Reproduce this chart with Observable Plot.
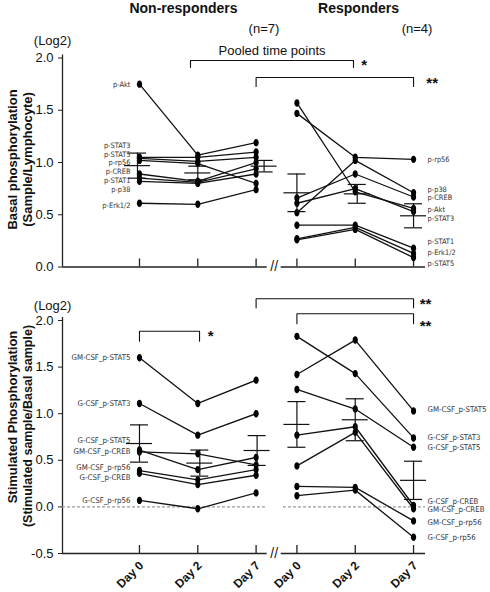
<!DOCTYPE html>
<html>
<head>
<meta charset="utf-8">
<script src="https://cdn.jsdelivr.net/npm/d3@7"></script>
<script src="https://cdn.jsdelivr.net/npm/@observablehq/plot@0.6"></script>
<style>
html,body{margin:0;padding:0;background:#fff;}
#chart{width:490px;}
#chart svg{display:block;}
</style>
</head>
<body>
<div id="chart"></div>
<script>
// ---------------- DATA ----------------
const groups = ["Non-responders", "Responders"];
const groupN = ["(n=7)", "(n=4)"];
const days = ["Day 0", "Day 2", "Day 7"];
const yTicks = [-0.5, 0, 0.5, 1, 1.5, 2];

// Basal phosphorylation (Log2), values per series at Day 0 / Day 2 / Day 7
const basalSeries = ["p-Akt", "p-STAT3", "p-STAT5", "p-rp56", "p-CREB", "p-STAT1", "p-p38", "p-Erk1/2"];
const basalNonResp = [
  [1.75, 1.07, 1.19],
  [1.05, 1.05, 1.10],
  [1.04, 1.01, 1.05],
  [1.02, 0.99, 0.80],
  [0.89, 0.82, 1.00],
  [0.85, 0.81, 0.94],
  [0.82, 0.80, 0.89],
  [0.61, 0.60, 0.74]
];
const basalResp = [
  [1.57, 0.72, 0.56],
  [0.61, 0.75, 0.53],
  [0.26, 0.36, 0.09],
  [1.47, 1.05, 1.03],
  [0.66, 0.89, 0.67],
  [0.40, 0.40, 0.18],
  [0.52, 1.02, 0.71],
  [0.27, 0.38, 0.13]
];
const basalNonRespMean = [0.97, 0.90, 0.965];
const basalNonRespSem  = [0.12, 0.065, 0.055];
const basalRespMean    = [0.71, 0.70, 0.49];
const basalRespSem     = [0.18, 0.09, 0.115];

// Stimulated phosphorylation (Log2)
const stimSeries = ["GM-CSF_p-STAT5", "G-CSF_p-STAT3", "G-CSF_p-STAT5", "GM-CSF_p-CREB", "GM-CSF_p-rp56", "G-CSF_p-CREB", "G-CSF_p-rp56"];
const stimNonResp = [
  [1.60, 1.11, 1.36],
  [1.11, 0.77, 1.00],
  [0.61, 0.40, 0.53],
  [0.59, 0.57, 0.45],
  [0.39, 0.29, 0.40],
  [0.36, 0.24, 0.34],
  [0.07, -0.02, 0.15]
];
const stimResp = [
  [1.42, 1.79, 1.03],
  [1.83, 1.43, 0.74],
  [1.26, 1.05, 0.64],
  [0.44, 0.80, -0.02],
  [0.22, 0.21, -0.15],
  [0.77, 0.86, 0.015],
  [0.12, 0.18, -0.325]
];
const stimNonRespMean = [0.68, 0.47, 0.605];
const stimNonRespSem  = [0.20, 0.14, 0.16];
const stimRespMean    = [0.885, 0.935, 0.285];
const stimRespSem     = [0.245, 0.225, 0.205];

// ---------------- LAYOUT ----------------
// label anchor heights (value units) for the series names
const basalNonRespLabelAt = [1.746, 1.162, 1.08, 1.0, 0.908, 0.822, 0.738, 0.589];
const basalRespLabelAt    = [0.548, 0.466, 0.031, 1.03, 0.662, 0.247, 0.745, 0.136];
const stimNonRespLabelAt  = [1.60, 1.113, 0.712, 0.598, 0.426, 0.319, 0.069];
const stimRespLabelAt     = [1.042, 0.748, 0.634, -0.031, -0.164, 0.058, -0.325];

const W = 490, ML = 62, MR = 65;
const X_DOMAIN = [-1.32, 4.905];
const PX = (W - ML - MR) / (X_DOMAIN[1] - X_DOMAIN[0]);
const RESP_SHIFT = 2.7;
const xAt = (g, i) => (g === 0 ? 0 : RESP_SHIFT) + i;
const BREAK_X = 2.31;
const FONT = "'Liberation Sans', Arial, Helvetica, sans-serif";
const SMALL_FONT = "'Liberation Sans Narrow', 'DejaVu Sans Condensed', 'Liberation Sans', sans-serif";

const ellipse = {
  draw(ctx) {
    const rx = 2.6, ry = 3.7, k = 0.5523;
    ctx.moveTo(rx, 0);
    ctx.bezierCurveTo(rx, k * ry, k * rx, ry, 0, ry);
    ctx.bezierCurveTo(-k * rx, ry, -rx, k * ry, -rx, 0);
    ctx.bezierCurveTo(-rx, -k * ry, -k * rx, -ry, 0, -ry);
    ctx.bezierCurveTo(k * rx, -ry, rx, -k * ry, rx, 0);
    ctx.closePath();
  }
};

function seriesRows(names, nr, r) {
  const rows = [];
  names.forEach((s, k) => {
    [nr, r].forEach((arr, g) => {
      days.forEach((d, i) => rows.push({key: g + "|" + s, series: s, g, x: xAt(g, i), y: arr[k][i]}));
    });
  });
  return rows;
}
function errRows(mNR, sNR, mR, sR, offs) {
  const rows = [];
  [[mNR, sNR], [mR, sR]].forEach(([m, s], g) => {
    days.forEach((d, i) => rows.push({
      x: xAt(g, i) + (offs[g][i] || 0) / PX,
      mean: m[i], lo: m[i] - s[i], hi: m[i] + s[i]
    }));
  });
  return rows;
}
function bracketRows(list) {
  return list.flatMap((b, k) =>
    [[b.x1, b.y - b.drop], [b.x1, b.y], [b.x2, b.y], [b.x2, b.y - b.drop]].map(([x, y]) => ({k, x, y})));
}

function panel(cfg) {
  const {height, marginTop, marginBottom, yDomain} = cfg;
  const [ymin, ymax] = yDomain;
  const PY = (height - marginTop - marginBottom) / (ymax - ymin);
  const uy = px => px / PY;
  const ux = px => px / PX;
  const rows = seriesRows(cfg.names, cfg.nr, cfg.r);
  const err = errRows(...cfg.err, cfg.errOffsets);
  const tickXs = [0, 1, 2].flatMap(i => [xAt(0, i), xAt(1, i)]);
  const labNR = cfg.names.map((s, k) => ({s, x: xAt(0, 0), y: cfg.labelsNR[k]}));
  const labR = cfg.names.map((s, k) => ({s, x: xAt(1, 2), y: cfg.labelsR[k]}));

  const marks = [
    Plot.ruleX([X_DOMAIN[0]], {x: d => d, y1: () => ymin, y2: () => ymax + uy(3), stroke: "#222", strokeWidth: 1.3}),
    Plot.ruleY([{a: X_DOMAIN[0], b: BREAK_X - ux(7)}, {a: BREAK_X + ux(7), b: X_DOMAIN[1]}],
      {y: () => ymin, x1: "a", x2: "b", stroke: "#222", strokeWidth: 1.3}),
    Plot.text(["//"], {x: () => BREAK_X, y: () => ymin, text: d => d, fontSize: 14, fill: "#222", lineAnchor: "middle"}),
    Plot.ruleX(tickXs, {x: d => d, y1: () => ymin, y2: () => ymin + uy(8), stroke: "#222", strokeWidth: 1.3}),
    Plot.axisY({ticks: yTicks.filter(t => t >= ymin && t <= ymax), tickFormat: d => d.toFixed(1),
      tickSize: 4, tickPadding: 5, label: null, fontSize: 13, stroke: "#222"})
  ];
  if (cfg.zeroLine) {
    marks.push(Plot.ruleY([{a: X_DOMAIN[0], b: 2.16}, {a: 2.47, b: X_DOMAIN[1]}],
      {y: () => 0, x1: "a", x2: "b", stroke: "#999", strokeWidth: 1.2, strokeDasharray: "3,2"}));
  }
  marks.push(
    Plot.line(rows, {x: "x", y: "y", z: "key", stroke: "#111", strokeWidth: 1.3}),
    Plot.dot(rows, {x: "x", y: "y", symbol: ellipse, fill: "#000", stroke: "none"}),
    Plot.ruleX(err, {x: "x", y1: "lo", y2: "hi", stroke: "#111", strokeWidth: 1.2}),
    Plot.ruleY(err, {y: "lo", x1: d => d.x - ux(9), x2: d => d.x + ux(9), stroke: "#111", strokeWidth: 1.2}),
    Plot.ruleY(err, {y: "hi", x1: d => d.x - ux(9), x2: d => d.x + ux(9), stroke: "#111", strokeWidth: 1.2}),
    Plot.ruleY(err, {y: "mean", x1: d => d.x - ux(13), x2: d => d.x + ux(13), stroke: "#111", strokeWidth: 1.2}),
    Plot.text(labNR, {x: "x", y: "y", text: "s", textAnchor: "end", dx: -9, fontSize: cfg.labelSize, fill: "#333", fontFamily: SMALL_FONT, lineAnchor: "middle"}),
    Plot.text(labR, {x: "x", y: "y", text: "s", textAnchor: "start", dx: 14, fontSize: cfg.labelSize, fill: "#333", fontFamily: SMALL_FONT, lineAnchor: "middle"}),
    Plot.line(bracketRows(cfg.brackets), {x: "x", y: "y", z: "k", stroke: "#111", strokeWidth: 1.1})
  );
  cfg.texts.forEach(t => {
    marks.push(Plot.text([t], {x: "x", y: "y", text: "t", fontSize: t.size || 13, fontWeight: t.bold ? "bold" : "normal",
      lineAnchor: "middle", dy: t.dy || 0, fill: "#111"}));
  });
  cfg.titleLines.forEach(l => {
    marks.push(Plot.text([l.t], {frameAnchor: "left", text: d => d, dx: l.dx, dy: l.dy, rotate: -90,
      textAnchor: "middle", fontWeight: "bold", fontSize: l.size, lineAnchor: "middle", fill: "#111"}));
  });
  if (cfg.dayLabels) {
    const dl = [0, 1, 2].flatMap(i => [{x: xAt(0, i), t: days[i]}, {x: xAt(1, i), t: days[i]}]);
    marks.push(Plot.text(dl, {x: "x", y: () => ymin, text: "t", rotate: -45, textAnchor: "end", lineAnchor: "middle",
      dx: 2, dy: 10, fontWeight: "bold", fontSize: 12, fill: "#111"}));
  }

  return Plot.plot({
    width: W, height, marginLeft: ML, marginRight: MR, marginTop, marginBottom,
    x: {domain: X_DOMAIN, axis: null},
    y: {domain: yDomain, axis: null},
    style: {fontFamily: FONT, fontSize: "13px", background: "#fff", overflow: "visible", color: "#111"},
    marks
  });
}

const topPanel = panel({
  height: 290, marginTop: 57.5, marginBottom: 23.5, yDomain: [0, 2],
  names: basalSeries, nr: basalNonResp, r: basalResp,
  err: [basalNonRespMean, basalNonRespSem, basalRespMean, basalRespSem],
  errOffsets: [[-2, 0, 8], [0, 2, 0]],
  labelsNR: basalNonRespLabelAt, labelsR: basalRespLabelAt, labelSize: 7.4,
  brackets: [
    {x1: 0.875, x2: 3.67, y: 1.976, drop: 0.067},
    {x1: 2, x2: 4.7, y: 1.813, drop: 0.086}
  ],
  texts: [
    {x: 0.755, y: 2.478, t: groups[0], bold: true, size: 14},
    {x: 3.757, y: 2.478, t: groups[1], bold: true, size: 14},
    {x: 2.135, y: 2.282, t: groupN[0]},
    {x: 4.76, y: 2.282, t: groupN[1]},
    {x: -1.49, y: 2.167, t: "(Log2)"},
    {x: 2.273, y: 2.072, t: "Pooled time points"},
    {x: 3.855, y: 1.957, t: "*", bold: true, size: 15, dy: 3},
    {x: 5.02, y: 1.785, t: "**", bold: true, size: 15, dy: 3}
  ],
  titleLines: [
    {t: "Basal phosphorylation", dx: -50, dy: -3, size: 13},
    {t: "(Sample/Lymphocyte)", dx: -35, dy: -3, size: 13}
  ],
  zeroLine: false, dayLabels: false
});

const bottomPanel = panel({
  height: 302, marginTop: 30, marginBottom: 39, yDomain: [-0.5, 2],
  names: stimSeries, nr: stimNonResp, r: stimResp,
  err: [stimNonRespMean, stimNonRespSem, stimRespMean, stimRespSem],
  errOffsets: [[0, 2, 1], [0, 0, 0]],
  labelsNR: stimNonRespLabelAt, labelsR: stimRespLabelAt, labelSize: 7.8,
  brackets: [
    {x1: 0, x2: 1.03, y: 1.885, drop: 0.107},
    {x1: 2, x2: 4.7, y: 2.233, drop: 0.097},
    {x1: 2.7, x2: 4.7, y: 2.072, drop: 0.107}
  ],
  texts: [
    {x: -1.49, y: 2.161, t: "(Log2)"},
    {x: 1.22, y: 1.86, t: "*", bold: true, size: 15, dy: 3},
    {x: 4.905, y: 2.207, t: "**", bold: true, size: 15, dy: 3},
    {x: 4.905, y: 1.971, t: "**", bold: true, size: 15, dy: 3}
  ],
  titleLines: [
    {t: "Stimulated Phosphorylation", dx: -50, dy: -20, size: 13},
    {t: "(Stimulated sample/Basal sample)", dx: -35, dy: -11, size: 12.5}
  ],
  zeroLine: true, dayLabels: true
});

const root = document.getElementById("chart");
root.appendChild(topPanel);
root.appendChild(bottomPanel);
</script>
</body>
</html>
